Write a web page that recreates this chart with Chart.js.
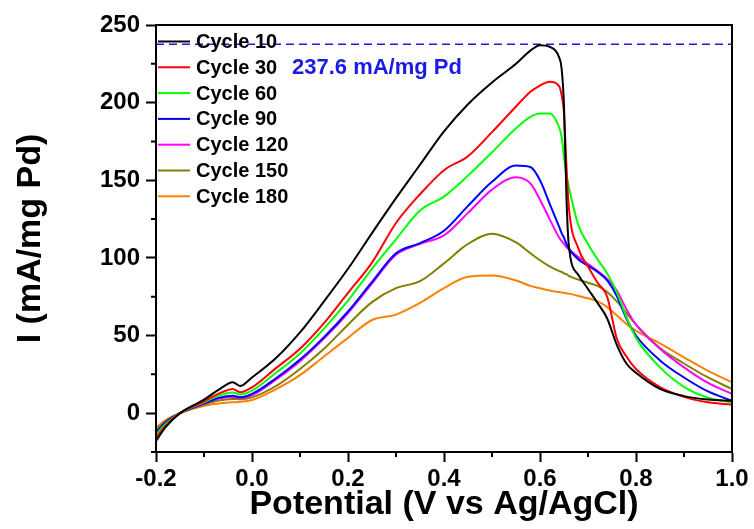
<!DOCTYPE html>
<html>
<head>
<meta charset="utf-8">
<script src="https://cdn.jsdelivr.net/npm/chart.js@4.4.1/dist/chart.umd.min.js"></script>
<style>
  html, body { margin: 0; padding: 0; background: #fff; }
  canvas { display: block; }
</style>
</head>
<body>
<canvas id="cv" width="754" height="529"></canvas>
<script>
// potential grid (V vs Ag/AgCl) shared by all cycles
const potential = [-0.2, -0.18, -0.15, -0.1, -0.07, -0.04, -0.025, 0, 0.05, 0.1, 0.15, 0.2, 0.25, 0.3, 0.35, 0.4, 0.45, 0.5, 0.55, 0.58, 0.6, 0.62, 0.64, 0.645, 0.65, 0.655, 0.66, 0.68, 0.7, 0.72, 0.74, 0.76, 0.78, 0.8, 0.85, 0.9, 0.95, 1.0]

// current density (mA/mg Pd) for each cycle
const cycle10 = [-18, -9, 0, 8.7, 15, 20, 17.5, 23, 35.5, 52, 72, 93, 116, 138.5, 160, 181.5, 199, 213, 225, 233.5, 237, 236, 229, 222, 198, 140, 108, 89, 80, 71, 61, 44, 32, 26, 15.6, 11, 8.8, 8]
const cycle30 = [-15.6, -8, 0, 7.6, 12.4, 15.6, 13.5, 16.6, 29, 41.5, 58, 77.5, 97, 122.5, 141, 156.5, 165.5, 181, 197.5, 207, 211, 213.4, 210.5, 205, 193, 160, 133, 106, 94.5, 84, 75, 48, 36.5, 28.5, 16.8, 10.5, 7, 5.5]
const cycle60 = [-13.9, -7, 0, 7, 11.3, 13.4, 12, 14.5, 26, 38.5, 54.5, 72.5, 93, 112, 130.6, 139.5, 153, 168, 183.5, 190.8, 193, 193, 184, 178, 165, 154, 146, 121, 109, 99, 90, 78, 62, 48.5, 29.5, 17, 10, 7]
const cycle90 = [-12.4, -6, 0, 6.3, 9.8, 11.3, 10.2, 12.4, 22.5, 34.5, 49, 65.5, 84.5, 103, 109.5, 117.5, 133.5, 149, 159.5, 158.5, 150, 135, 120, 116, 113, 109, 106, 99, 95, 91, 85.5, 75.5, 61, 50, 34, 23, 14, 8]
const cycle120 = [-12, -6, 0, 6, 9.5, 10.5, 9.8, 11.5, 21.5, 33.5, 48, 64.5, 83.5, 102, 109, 114.5, 129, 144, 152, 148, 137.5, 125, 113, 111, 109, 107, 105.5, 100.5, 96, 91.5, 86.5, 79, 67, 57, 41.5, 29.5, 19.5, 12.4]
const cycle150 = [-10.8, -5, 0, 5.5, 8.1, 9.2, 9, 10.2, 17.5, 28.5, 41.5, 57, 71.5, 80.5, 85, 96.5, 109, 115.6, 110, 103, 98.5, 94.5, 91.5, 91, 90, 89.5, 88.5, 86, 84, 82, 78, 72, 64.5, 57, 42, 32, 23, 15.6]
const cycle180 = [-9.2, -4.5, 0, 4.8, 6.3, 7, 7.3, 8.5, 15.5, 24.5, 36.5, 48.5, 60, 63.5, 71, 80.5, 87.8, 88.6, 85.5, 82, 80.5, 79, 78, 77.8, 77.5, 77.2, 77, 75.5, 74, 72, 68.3, 63, 57.5, 53, 45, 36, 27.2, 19.9]

const seriesNames = ['Cycle 10', 'Cycle 30', 'Cycle 60', 'Cycle 90', 'Cycle 120', 'Cycle 150', 'Cycle 180']
const seriesData = [cycle10, cycle30, cycle60, cycle90, cycle120, cycle150, cycle180]
const seriesColors = ['#000000', '#ff0000', '#00ff00', '#0000ff', '#ff00ff', '#808000', '#ff8000']

const peakCurrent = 237.6
const xTicks = [-0.2, 0.0, 0.2, 0.4, 0.6, 0.8, 1.0]
const yTicks = [0, 50, 100, 150, 200, 250]

const FONT = "'Liberation Sans', Arial, sans-serif"

const datasets = seriesData.map((vals, k) => ({
  label: seriesNames[k],
  data: potential.map((x, i) => ({ x: x, y: vals[i] })),
  borderColor: seriesColors[k],
  borderWidth: 2,
  pointRadius: 0,
  showLine: true,
  cubicInterpolationMode: 'monotone'
}))

// horizontal dashed line at the peak current of cycle 10
datasets.push({
  label: 'peak',
  data: [{ x: xTicks[0], y: peakCurrent }, { x: xTicks[xTicks.length - 1], y: peakCurrent }],
  borderColor: '#1a1ae6',
  borderWidth: 1.5,
  borderDash: [8, 5],
  pointRadius: 0,
  showLine: true
})

// frame, minor ticks, inner legend and the peak label
const decorations = {
  id: 'decorations',
  afterDraw(chart) {
    const ctx = chart.ctx
    const a = chart.chartArea
    const xs = chart.scales.x
    const ys = chart.scales.y
    ctx.save()
    ctx.strokeStyle = '#000'
    ctx.lineWidth = 2
    ctx.strokeRect(a.left, a.top, a.right - a.left, a.bottom - a.top)

    // minor ticks halfway between labelled ones
    ctx.beginPath()
    for (let i = 0; i < xTicks.length - 1; i++) {
      const px = xs.getPixelForValue((xTicks[i] + xTicks[i + 1]) / 2)
      ctx.moveTo(px, a.bottom)
      ctx.lineTo(px, a.bottom + 5)
    }
    const yMinor = [-25].concat(yTicks.slice(0, -1).map((v, i) => (v + yTicks[i + 1]) / 2))
    yMinor.forEach(v => {
      const py = ys.getPixelForValue(v)
      ctx.moveTo(a.left, py)
      ctx.lineTo(a.left - 5, py)
    })
    ctx.stroke()

    // legend
    ctx.font = 'bold 20px ' + FONT
    ctx.textBaseline = 'middle'
    ctx.textAlign = 'left'
    seriesNames.forEach((name, i) => {
      const y = a.top + 16.5 + i * 25.8
      ctx.strokeStyle = seriesColors[i]
      ctx.lineWidth = 2
      ctx.beginPath()
      ctx.moveTo(a.left + 2, y)
      ctx.lineTo(a.left + 34, y)
      ctx.stroke()
      ctx.fillStyle = '#000'
      ctx.fillText(name, a.left + 40, y + 1)
    })

    ctx.font = 'bold 22px ' + FONT
    ctx.fillStyle = '#1a1ae6'
    ctx.fillText(peakCurrent + ' mA/mg Pd', a.left + 136, a.top + 43)
    ctx.restore()
  }
}

new Chart(document.getElementById('cv'), {
  type: 'scatter',
  data: { datasets: datasets },
  plugins: [decorations],
  options: {
    responsive: false,
    animation: false,
    layout: { padding: { top: 25, right: 22, left: 0, bottom: 0 } },
    plugins: {
      legend: { display: false },
      tooltip: { enabled: false }
    },
    scales: {
      x: {
        type: 'linear',
        min: -0.2,
        max: 1.0,
        afterBuildTicks: s => { s.ticks = xTicks.map(v => ({ value: v })) },
        afterFit: s => { s.height = 77 },
        ticks: {
          callback: v => v.toFixed(1),
          color: '#000',
          padding: 3,
          maxRotation: 0,
          font: { family: FONT, size: 24, weight: 'bold' }
        },
        grid: { drawOnChartArea: false, tickLength: 10, tickWidth: 2, color: '#000' },
        border: { color: '#000', width: 2 },
        title: {
          display: true,
          text: 'Potential (V vs Ag/AgCl)',
          color: '#000',
          padding: { top: 0, bottom: 7 },
          font: { family: FONT, size: 34, weight: 'bold', lineHeight: 1 }
        }
      },
      y: {
        min: -25,
        max: 250,
        afterBuildTicks: s => { s.ticks = yTicks.map(v => ({ value: v })) },
        afterFit: s => { s.width = 156 },
        ticks: {
          color: '#000',
          padding: 6,
          font: { family: FONT, size: 24, weight: 'bold' }
        },
        grid: { drawOnChartArea: false, tickLength: 10, tickWidth: 2, color: '#000' },
        border: { color: '#000', width: 2 },
        title: {
          display: true,
          text: 'I (mA/mg Pd)',
          color: '#000',
          padding: { top: 14, bottom: 0 },
          font: { family: FONT, size: 34, weight: 'bold', lineHeight: 1 }
        }
      }
    }
  }
})
</script>
</body>
</html>
